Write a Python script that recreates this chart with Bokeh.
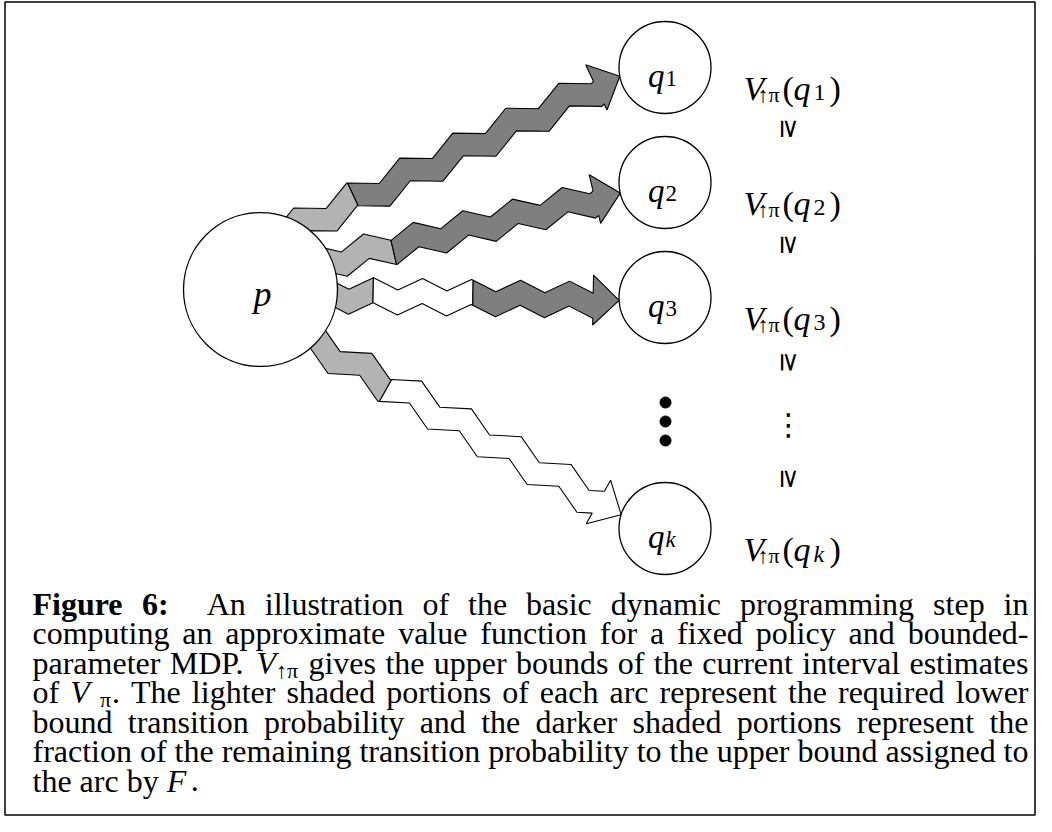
import math
from bokeh.plotting import figure
from bokeh.models import ColumnDataSource, Range1d
from bokeh.core.properties import value
from bokeh.embed import file_html
from bokeh.resources import INLINE

# ------------------------------------------------------------------ data
source_label = "p"
target_names = ["q1", "q2", "q3", "qk"]
target_subscripts = ["1", "2", "3", "k"]
# shares of each arc body: lighter = required lower bound,
# unshaded = not assigned, darker = remaining probability assigned by F
lower_bound_share = [0.18, 0.23, 0.14, 0.26]
unassigned_share = [0.00, 0.00, 0.39, 0.74]
assigned_share = [0.82, 0.77, 0.47, 0.00]
value_prefix = "V"
value_subscript = "↑π"
order_symbol = "≥"
ellipsis_symbol = "⋮"

caption_lines = [
    [[("Figure", "b")], [("6:", "b")], "An", "illustration", "of", "the", "basic",
     "dynamic", "programming", "step", "in"],
    "computing an approximate value function for a fixed policy and bounded-".split(),
    ["parameter", "MDP.", [("V", "i"), ("↑π", "sub")], "gives", "the", "upper", "bounds",
     "of", "the", "current", "interval", "estimates"],
    ["of", [("V", "i"), ("", "gap"), ("π", "sub"), (".", "r")], "The", "lighter", "shaded",
     "portions", "of", "each", "arc", "represent", "the", "required", "lower"],
    "bound transition probability and the darker shaded portions represent the".split(),
    "fraction of the remaining transition probability to the upper bound assigned to".split(),
    ["the", "arc", "by", [("F", "i"), ("", "thin"), (".", "r")]],
]

# ------------------------------------------------------------------ layout constants
W, H = 1036, 816
P_CENTER = (260.0, 289.0)
P_RADIUS = 77.0
Q_X = 664.5
Q_YS = [67.0, 182.0, 297.0, 528.0]
Q_RADIUS = 46.0
EXIT_DEG = [-56.5, -22.0, 4.5, 45.0]
ENTRY_DEG = [169.0, 166.7, 176.3, 197.5]
ZIG_PERIOD = [58.6, 51.0, 49.0, 57.0]
ZIG_PEAK = [57.5, 36.9, 36.0, 54.3]
ZIG_SLOPE = math.tan(math.radians(26))
BAND_HALF = 12.5
HEAD_HALF = 25.0
HEAD_LEN = 26.0
BAND_BACK = 18.0
LIGHT, DARK, BLANK = "#b3b3b3", "#7f7f7f", "#ffffff"
SERIF = "Liberation Serif"

p = figure(width=W, height=H, x_range=Range1d(0, W), y_range=Range1d(H, 0),
           output_backend="svg", toolbar_location=None, min_border=0,
           x_axis_location=None, y_axis_location=None, background_fill_color="white",
           border_fill_color="white")
p.grid.visible = False
p.outline_line_color = None

# ------------------------------------------------------------------ frame
p.quad(left=[4.5], right=[W - 1.5], top=[1.5], bottom=[H - 1.5],
       fill_color=None, line_color="black", line_width=1.5)

# ------------------------------------------------------------------ arcs
def tri(u, P, u0, a):
    ph = ((u - u0) / P) % 1.0
    return -a + 4 * a * ph if ph < 0.5 else 3 * a - 4 * a * ph


def edge(S, d, n, ua, ub, P, u0, a, off):
    us = [ua]
    half = P / 2.0
    k = math.floor((ua - u0) / half) + 1
    u = u0 + k * half
    while u < ub - 1e-6:
        if u > ua + 1e-6:
            us.append(u)
        u += half
    us.append(ub)
    out = []
    for uu in us:
        w = tri(uu, P, u0, a) + off
        out.append((S[0] + uu * d[0] + w * n[0], S[1] + uu * d[1] + w * n[1]))
    return out


xs, ys, fills = [], [], []
for i in range(len(target_names)):
    e = math.radians(EXIT_DEG[i])
    t = math.radians(ENTRY_DEG[i])
    S = (P_CENTER[0] + P_RADIUS * math.cos(e), P_CENTER[1] + P_RADIUS * math.sin(e))
    T = (Q_X + Q_RADIUS * math.cos(t), Q_YS[i] + Q_RADIUS * math.sin(t))
    L = math.hypot(T[0] - S[0], T[1] - S[1])
    d = ((T[0] - S[0]) / L, (T[1] - S[1]) / L)
    n = (-d[1], d[0])
    Lb = L - HEAD_LEN
    P = ZIG_PERIOD[i]
    u0 = ZIG_PEAK[i]
    a = ZIG_SLOPE * P / 4.0
    shares = [lower_bound_share[i], unassigned_share[i], assigned_share[i]]
    colors = [LIGHT, BLANK, DARK]
    tot = sum(shares)
    bounds = [-BAND_BACK]
    acc = 0.0
    for s in shares:
        acc += s / tot
        bounds.append(acc * Lb)
    last = max(j for j in range(3) if shares[j] > 0)
    for j in range(3):
        if shares[j] <= 0:
            continue
        ua, ub = bounds[j], bounds[j + 1]
        top = edge(S, d, n, ua, ub, P, u0, a, -BAND_HALF)
        bot = edge(S, d, n, ua, ub, P, u0, a, BAND_HALF)
        pts = list(top)
        if j == last:
            B = (S[0] + Lb * d[0], S[1] + Lb * d[1])
            pts += [(B[0] - HEAD_HALF * n[0], B[1] - HEAD_HALF * n[1]), T,
                    (B[0] + HEAD_HALF * n[0], B[1] + HEAD_HALF * n[1])]
        pts += bot[::-1]
        xs.append([q[0] for q in pts])
        ys.append([q[1] for q in pts])
        fills.append(colors[j])

p.patches(xs="xs", ys="ys", fill_color="fill", line_color="black", line_width=1.1,
          source=ColumnDataSource(dict(xs=xs, ys=ys, fill=fills)))

# ------------------------------------------------------------------ nodes
p.circle(x=[P_CENTER[0]] + [Q_X] * 4, y=[P_CENTER[1]] + Q_YS,
         radius=[P_RADIUS] + [Q_RADIUS] * 4,
         fill_color="white", line_color="black", line_width=1.3)
p.circle(x=[Q_X + 0.5] * 3, y=[402.0, 421.0, 440.0], radius=5.5,
         fill_color="black", line_color="black")

# ------------------------------------------------------------------ texts
groups = {}


def add_text(x, y, txt, size, style="normal", font=SERIF, align="left",
             baseline="alphabetic", angle=0.0):
    key = (font, style, size, align, baseline, angle)
    g = groups.setdefault(key, dict(x=[], y=[], text=[]))
    g["x"].append(x)
    g["y"].append(y)
    g["text"].append(txt)


# node labels
add_text(P_CENTER[0] + 2, P_CENTER[1] + 4, source_label, 36, "italic", align="center")
for i, sub in enumerate(target_subscripts):
    yc = Q_YS[i]
    sub_style = "italic" if sub.isalpha() else "normal"
    add_text(Q_X - 17, yc + 8, "q", 33, "italic")
    add_text(Q_X + 0.5, yc + 11, sub, 23, sub_style)
    # value labels
    lx = 743
    add_text(lx, yc + 21, value_prefix, 34, "italic")
    add_text(lx + 14, yc + 27, value_subscript, 22)
    add_text(lx + 39, yc + 21, "(", 34)
    add_text(lx + 50, yc + 21, "q", 34, "italic")
    add_text(lx + 70, yc + 25, sub, 24, sub_style)
    add_text(lx + 86, yc + 21, ")", 34)

for yy in [128.5, 244.5, 362.0, 478.5]:
    add_text(789.5, yy, order_symbol, 26, font="DejaVu Sans", align="center",
             baseline="middle", angle=-math.pi / 2)
add_text(788.0, 424.0, ellipsis_symbol, 30, font="DejaVu Sans", align="center",
         baseline="middle")

# caption (justified)
REG = {' ': 250, '(': 333, ')': 333, ',': 250, '-': 333, '.': 250, ':': 278, 'π': 550, '↑': 500,
       'A': 722, 'B': 667, 'C': 667, 'D': 722, 'E': 611, 'F': 556, 'G': 722, 'H': 722, 'I': 333,
       'J': 389, 'K': 722, 'L': 611, 'M': 889, 'N': 722, 'O': 722, 'P': 556, 'Q': 722, 'R': 667,
       'S': 556, 'T': 611, 'U': 722, 'V': 722, 'W': 944, 'X': 722, 'Y': 722, 'Z': 611,
       'a': 444, 'b': 500, 'c': 444, 'd': 500, 'e': 444, 'f': 333, 'g': 500, 'h': 500, 'i': 278,
       'j': 278, 'k': 500, 'l': 278, 'm': 778, 'n': 500, 'o': 500, 'p': 500, 'q': 500, 'r': 333,
       's': 389, 't': 278, 'u': 500, 'v': 500, 'w': 722, 'x': 500, 'y': 500, 'z': 444}
BOLD = {'F': 611, 'i': 278, 'g': 500, 'u': 556, 'r': 444, 'e': 444, '6': 500, ':': 333}
ITAL = {'V': 611, 'F': 611, 'q': 500, 'p': 500, 'k': 444}

CAP_SIZE = 32
CAP_X0, CAP_X1 = 32.0, 1028.0
CAP_Y0, CAP_LS = 603.0, 29.5


def run_info(txt, kind):
    if kind == "sub":
        size = round(CAP_SIZE * 0.7)
        w = sum(REG.get(c, 500) for c in txt) / 1000 * size
        return size, "normal", w, CAP_SIZE * 0.24
    if kind == "gap":
        return None, None, CAP_SIZE * 0.32, 0
    if kind == "thin":
        return None, None, CAP_SIZE * 0.14, 0
    table = {"b": BOLD, "i": ITAL}.get(kind, REG)
    style = {"b": "bold", "i": "italic"}.get(kind, "normal")
    w = sum(table.get(c, REG.get(c, 500)) for c in txt) / 1000 * CAP_SIZE
    return CAP_SIZE, style, w, 0


def token_runs(tok):
    if isinstance(tok, str):
        return [(tok, "r")]
    return tok


for li, line in enumerate(caption_lines):
    yb = CAP_Y0 + li * CAP_LS
    toks = [token_runs(t) for t in line]
    widths = [sum(run_info(t, k)[2] for t, k in runs) for runs in toks]
    justify = li < len(caption_lines) - 1
    weights = [2.0 if (li == 0 and gi == 1) else 1.0 for gi in range(len(toks) - 1)]
    if justify:
        gap_unit = (CAP_X1 - CAP_X0 - sum(widths)) / sum(weights)
    else:
        gap_unit = REG[' '] / 1000 * CAP_SIZE
    x = CAP_X0
    for ti, runs in enumerate(toks):
        if justify and ti == len(toks) - 1 and len(runs) == 1:
            size, style, w, dy = run_info(*runs[0])
            add_text(CAP_X1, yb + dy, runs[0][0], size, style, align="right")
            break
        rx = x
        for txt, kind in runs:
            size, style, w, dy = run_info(txt, kind)
            if size is not None and txt:
                add_text(rx, yb + dy, txt, size, style)
            rx += w
        x += widths[ti] + (gap_unit * weights[ti] if ti < len(weights) else 0)

for (font, style, size, align, baseline, angle), g in groups.items():
    p.text(x="x", y="y", text="text", source=ColumnDataSource(g),
           text_font=value(font), text_font_size=value(f"{size}px"),
           text_font_style=value(style), text_align=value(align),
           text_baseline=value(baseline), angle=angle, text_color="black")

open("out.html", "w").write(file_html(p, INLINE))
